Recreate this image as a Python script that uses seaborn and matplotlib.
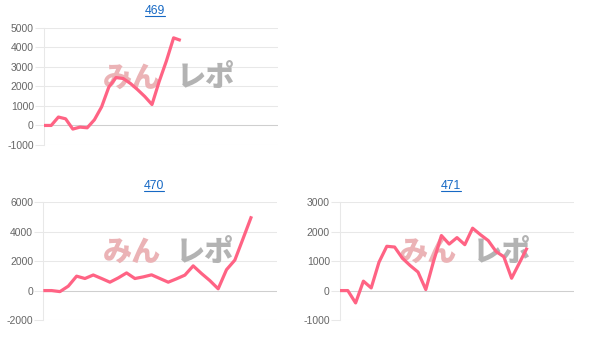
import matplotlib
matplotlib.use('Agg')
import matplotlib.pyplot as plt
import numpy as np
import pandas as pd
import seaborn as sns
from matplotlib.lines import Line2D

# ---- data ----
titles = ['469', '470', '471']
values_469 = [0, 0, 430, 340, -185, -85, -120, 290, 950, 1960, 2450, 2400,
              2150, 1830, 1480, 1070, 2250, 3300, 4480, 4350]
values_470 = [0, 0, -70, 300, 980, 820, 1060, 820, 570, 860, 1200, 820, 930,
              1070, 820, 570, 800, 1050, 1680, 1160, 680, 120, 1420, 2070, 3550, 5050]
values_471 = [0, 0, -420, 320, 90, 965, 1505, 1480, 1100, 850, 630, 35, 1000,
              1870, 1580, 1800, 1560, 2120, 1900, 1700, 1330, 1150, 420, 940, 1460]
yticks_469 = [-1000, 0, 1000, 2000, 3000, 4000, 5000]
yticks_470 = [-2000, 0, 2000, 4000, 6000]
yticks_471 = [-1000, 0, 1000, 2000, 3000]
watermark_pink = 'みん'
watermark_gray = 'レポ'

sns.set_theme(style='white')
plt.rcParams['font.family'] = ['Liberation Sans', 'Noto Sans CJK JP', 'DejaVu Sans']

W, H = 604, 350
fig = plt.figure(figsize=(W / 100, H / 100), dpi=100)
fig.patch.set_facecolor('white')

LINE_COLOR = '#ff6384'
GRID_COLOR = '#e8e8e8'
ZERO_COLOR = '#cfcfcf'
TICK_COLOR = '#666666'
TITLE_COLOR = '#1769c4'

panels = [
    dict(title=titles[0], values=values_469, yticks=yticks_469,
         box=(44, 27.7, 278, 145), xmax=32.5, title_x=155, base_y=14),
    dict(title=titles[1], values=values_470, yticks=yticks_470,
         box=(43.3, 202.3, 277.3, 320), xmax=28.1, title_x=153.8, base_y=189.3),
    dict(title=titles[2], values=values_471, yticks=yticks_471,
         box=(340, 202.3, 574, 320), xmax=30.0, title_x=451, base_y=189.3),
]

title_texts = []
for p in panels:
    x0, y0, x1, y1 = p['box']
    ax = fig.add_axes([x0 / W, 1 - y1 / H, (x1 - x0) / W, (y1 - y0) / H])
    df = pd.DataFrame({'idx': np.arange(len(p['values'])), 'value': p['values']})
    sns.lineplot(data=df, x='idx', y='value', ax=ax, color=LINE_COLOR,
                 linewidth=2.3, zorder=3, solid_joinstyle='round',
                 solid_capstyle='butt')
    ax.set_xlim(0, p['xmax'])
    ax.set_ylim(p['yticks'][0], p['yticks'][-1])
    ax.set_yticks(p['yticks'])
    ax.set_yticklabels([str(v) for v in p['yticks']])
    ax.set_xticks([])
    ax.set_xlabel('')
    ax.set_ylabel('')
    ax.set_facecolor('none')
    for s in ['top', 'right', 'bottom']:
        ax.spines[s].set_visible(False)
    ax.spines['left'].set_color(GRID_COLOR)
    ax.spines['left'].set_linewidth(0.75)
    ax.yaxis.grid(True, color=GRID_COLOR, linewidth=0.75, zorder=0)
    ax.xaxis.grid(False)
    ax.set_axisbelow(True)
    ax.axhline(0, color=ZERO_COLOR, linewidth=0.75, zorder=1)
    ax.tick_params(axis='y', which='major', length=6.5, width=0.75,
                   color=GRID_COLOR, labelsize=7.5, labelcolor=TICK_COLOR,
                   pad=0.8, left=True)
    for tick, v in zip(ax.yaxis.get_major_ticks(), p['yticks']):
        if v == 0:
            tick.tick1line.set_color(ZERO_COLOR)
    # watermark
    ax.text(0.378, 0.575, watermark_pink, transform=ax.transAxes, ha='center',
            va='center', fontsize=21, fontweight='heavy', color='#ebb3b6',
            zorder=2, family=['Noto Sans CJK JP', 'DejaVu Sans'])
    ax.text(0.692, 0.575, watermark_gray, transform=ax.transAxes, ha='center',
            va='center', fontsize=21, fontweight='heavy', color='#b3b3b3',
            zorder=2, family=['Noto Sans CJK JP', 'DejaVu Sans'])
    t = fig.text(p['title_x'] / W, 1 - p['base_y'] / H, p['title'],
                 ha='center', va='baseline', fontsize=8.8, color=TITLE_COLOR)
    title_texts.append((t, p['base_y']))

fig.canvas.draw()
renderer = fig.canvas.get_renderer()
for t, base_y in title_texts:
    bb = t.get_window_extent(renderer=renderer)
    uy = 1 - (base_y + 2) / H
    fig.add_artist(Line2D([bb.x0 / W, bb.x1 / W], [uy, uy],
                          transform=fig.transFigure, color=TITLE_COLOR,
                          linewidth=0.8))

fig.savefig('out.png', dpi=100, facecolor='white')
